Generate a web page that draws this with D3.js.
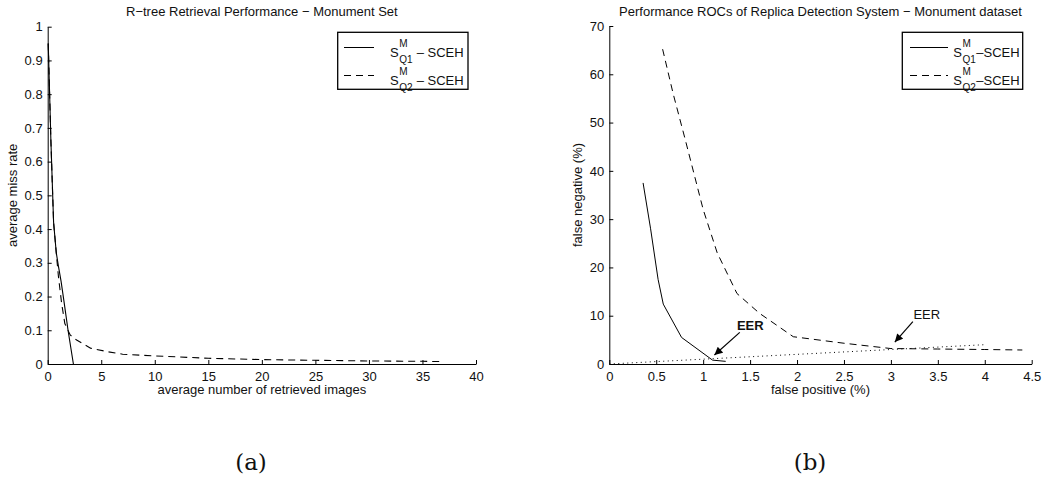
<!DOCTYPE html>
<html>
<head>
<meta charset="utf-8">
<script src="https://cdn.jsdelivr.net/npm/d3@7"></script>
<style>
  body { margin: 0; background: #fff; }
  svg text { font-family: "Liberation Sans", Arial, sans-serif; fill: #111; }
</style>
</head>
<body>
<div id="chart"></div>
<script>
// ---- data ----
// (a) R-tree retrieval performance
const retrQ1 = [[0.05, 0.95], [0.3, 0.66], [0.55, 0.42], [0.8, 0.33], [1.0, 0.29], [1.25, 0.245], [1.5, 0.19], [1.9, 0.1], [2.4, 0]];
const retrQ2 = [[0.05, 0.95], [0.3, 0.66], [0.55, 0.42], [0.8, 0.33], [1.0, 0.26], [1.3, 0.18], [1.6, 0.12], [2.1, 0.086], [2.7, 0.071],
                [4, 0.047], [5.5, 0.037], [7, 0.029], [10, 0.024], [15, 0.017], [20, 0.013], [25, 0.011], [30, 0.009], [35, 0.008], [37, 0.007]];
const retrXTicks = [0, 5, 10, 15, 20, 25, 30, 35, 40];
const retrYTicks = [0, 0.1, 0.2, 0.3, 0.4, 0.5, 0.6, 0.7, 0.8, 0.9, 1];

// (b) ROC of replica detection
const rocQ1 = [[0.36, 37.5], [0.44, 28], [0.52, 17.5], [0.575, 12.4], [0.77, 5.5], [1.1, 0.8], [1.24, 0.55]];
const rocQ2 = [[0.568, 65.2], [0.68, 56], [0.81, 46.4], [1.0, 32], [1.15, 23], [1.36, 14.6], [1.6, 10.5], [1.96, 5.65],
               [2.5, 4.3], [3.0, 3.2], [3.5, 3.1], [4.0, 3.0], [4.4, 2.9]];
const rocEqual = [[0, 0], [4, 4]];
const rocXTicks = [0, 0.5, 1, 1.5, 2, 2.5, 3, 3.5, 4, 4.5];
const rocYTicks = [0, 10, 20, 30, 40, 50, 60, 70];
const eerNotes = [
  {text: "EER", bold: true,  tx: 1.36, ty: 7.0, from: [1.39, 6.56], to: [1.12, 1.86]},
  {text: "EER", bold: false, tx: 3.24, ty: 9.4, from: [3.234, 8.76], to: [3.042, 4.55]}
];

const svg = d3.select("#chart").append("svg")
    .attr("width", 1050)
    .attr("height", 481);

svg.append("defs").append("marker")
    .attr("id", "head")
    .attr("viewBox", "0 0 10 10")
    .attr("refX", 10).attr("refY", 5)
    .attr("markerWidth", 10).attr("markerHeight", 8)
    .attr("markerUnits", "userSpaceOnUse")
    .attr("orient", "auto")
    .append("path").attr("d", "M0,0L10,5L0,10Z").attr("fill", "#000");

// Draws one MATLAB-like panel (left + bottom axis, ticks pointing in)
function drawPanel(cfg) {
    const x = d3.scaleLinear().domain(cfg.xDomain).range(cfg.xRange);
    const y = d3.scaleLinear().domain(cfg.yDomain).range(cfg.yRange);
    const g = svg.append("g");

    const xAxis = g.append("g")
        .attr("transform", `translate(0,${cfg.yRange[0]})`)
        .call(d3.axisBottom(x).tickValues(cfg.xTicks).tickSizeInner(-4).tickSizeOuter(0)
              .tickPadding(7.5).tickFormat(d3.format("")));
    const yAxis = g.append("g")
        .attr("transform", `translate(${cfg.xRange[0]},0)`)
        .call(d3.axisLeft(y).tickValues(cfg.yTicks).tickSizeInner(-4).tickSizeOuter(0)
              .tickPadding(5).tickFormat(d3.format("")));
    [xAxis, yAxis].forEach(a => {
        a.selectAll("text").attr("font-size", 13).attr("font-family", "Liberation Sans, Arial, sans-serif").attr("fill", "#111");
        a.selectAll("line, path").attr("stroke", "#000");
    });

    const line = d3.line().x(d => x(d[0])).y(d => y(d[1]));
    cfg.series.forEach(s => {
        g.append("path")
            .datum(s.data)
            .attr("d", line)
            .attr("fill", "none")
            .attr("stroke", "#000")
            .attr("stroke-width", s.width || 1)
            .attr("stroke-dasharray", s.dash);
    });

    // title and labels
    const cx = (cfg.xRange[0] + cfg.xRange[1]) / 2;
    g.append("text").attr("x", cx).attr("y", 16).attr("text-anchor", "middle")
        .attr("font-size", 13).text(cfg.title);
    g.append("text").attr("x", cx).attr("y", 394).attr("text-anchor", "middle")
        .attr("font-size", 13).text(cfg.xLabel);
    g.append("text")
        .attr("transform", `translate(${cfg.yLabelX},${(cfg.yRange[0] + cfg.yRange[1]) / 2}) rotate(-90)`)
        .attr("text-anchor", "middle").attr("font-size", 13).text(cfg.yLabel);

    // sub caption
    svg.append("text").attr("x", cfg.captionX).attr("y", 470).attr("text-anchor", "middle")
        .style("font-family", "'DejaVu Serif', serif").attr("font-size", 23).text(cfg.caption);

    // legend
    const L = cfg.legend;
    g.append("rect").attr("x", L.x0).attr("y", 32.3).attr("width", L.x1 - L.x0).attr("height", 57)
        .attr("fill", "#fff").attr("stroke", "#000").attr("stroke-width", 1.3);
    L.items.forEach((it, i) => {
        const ly = i === 0 ? 47.5 : 75.5;
        const sb = ly + 9.5;
        g.append("line").attr("x1", L.lx0).attr("x2", L.lx1).attr("y1", ly).attr("y2", ly)
            .attr("stroke", "#000").attr("stroke-dasharray", it.dash);
        const s = g.append("text").attr("x", L.tx).attr("y", sb).attr("font-size", 13).text("S");
        const sw = s.node().getComputedTextLength() + 0.5;
        g.append("text").attr("x", L.tx + sw).attr("y", sb - 10.5).attr("font-size", 10).text("M");
        const sub = g.append("text").attr("x", L.tx + sw).attr("y", sb + 5.5).attr("font-size", 10).text(it.sub);
        const subw = sub.node().getComputedTextLength();
        g.append("text").attr("x", L.tx + sw + subw + 0.5).attr("y", sb).attr("font-size", 13)
            .attr("xml:space", "preserve").text(L.suffix);
    });

    return {g, x, y};
}

drawPanel({
    xDomain: [0, 40], yDomain: [0, 1],
    xRange: [47.7, 476], yRange: [364, 26.7],
    xTicks: retrXTicks, yTicks: retrYTicks,
    title: "R\u2212tree Retrieval Performance \u2212 Monument Set",
    xLabel: "average number of retrieved images",
    yLabel: "average miss rate", yLabelX: 17,
    caption: "(a)", captionX: 251,
    series: [
        {data: retrQ1, dash: null, width: 1.1},
        {data: retrQ2, dash: "7,5", width: 1.1}
    ],
    legend: {x0: 337.7, x1: 468, lx0: 344, lx1: 374, tx: 390, suffix: " \u2013 SCEH",
             items: [{sub: "Q1", dash: null}, {sub: "Q2", dash: "7,5"}]}
});

const roc = drawPanel({
    xDomain: [0, 4.5], yDomain: [0, 70],
    xRange: [609.3, 1031.7], yRange: [364, 26],
    xTicks: rocXTicks, yTicks: rocYTicks,
    title: "Performance ROCs of Replica Detection System \u2212 Monument dataset",
    xLabel: "false positive (%)",
    yLabel: "false negative (%)", yLabelX: 582,
    caption: "(b)", captionX: 810,
    series: [
        {data: rocEqual, dash: "1,3.5", width: 1},
        {data: rocQ1, dash: null, width: 1},
        {data: rocQ2, dash: "7,5", width: 1}
    ],
    legend: {x0: 902.3, x1: 1022.7, lx0: 910, lx1: 948, tx: 953.3, suffix: "\u2013SCEH",
             items: [{sub: "Q1", dash: null}, {sub: "Q2", dash: "7,5"}]}
});

// EER annotations
eerNotes.forEach(n => {
    roc.g.append("line")
        .attr("x1", roc.x(n.from[0])).attr("y1", roc.y(n.from[1]))
        .attr("x2", roc.x(n.to[0])).attr("y2", roc.y(n.to[1]))
        .attr("stroke", "#000").attr("stroke-width", 1.2)
        .attr("marker-end", "url(#head)");
    roc.g.append("text")
        .attr("x", roc.x(n.tx)).attr("y", roc.y(n.ty))
        .attr("font-size", 13).attr("font-weight", n.bold ? "bold" : "normal")
        .text(n.text);
});
</script>
</body>
</html>
